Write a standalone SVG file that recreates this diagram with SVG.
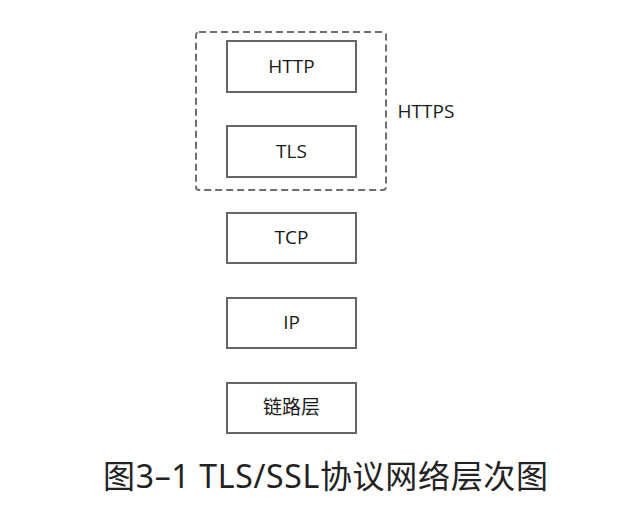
<svg xmlns="http://www.w3.org/2000/svg" width="618" height="516" viewBox="0 0 618 516">
<style>
.box{fill:#fff;stroke:#666;stroke-width:2}
.lbl{font-family:"Open Sans","Noto Sans","Noto Sans CJK SC",sans-serif;font-size:19px;fill:#1a1a1a;text-anchor:middle}
.cap{font-family:"Noto Sans","Noto Sans CJK SC",sans-serif;font-size:32px;fill:#222}
</style>
<rect width="618" height="516" fill="#fff"/>
<g id="https">
<rect x="196" y="32" width="190" height="158" fill="none" stroke="#6e6e6e" stroke-width="2" stroke-dasharray="7,4" rx="3"/>
<text class="lbl" x="426" y="118">HTTPS</text>
</g>
<g id="http"><rect class="box" x="227" y="41" width="129" height="51"/><text class="lbl" x="291.5" y="73">HTTP</text></g>
<g id="tls"><rect class="box" x="227" y="126" width="129" height="51"/><text class="lbl" x="291.5" y="158">TLS</text></g>
<g id="tcp"><rect class="box" x="227" y="213" width="129" height="50"/><text class="lbl" x="291.5" y="244">TCP</text></g>
<g id="ip"><rect class="box" x="227" y="298" width="129" height="50"/><text class="lbl" x="291.5" y="329">IP</text></g>
<g id="link"><rect class="box" x="227" y="383" width="129" height="50"/><text class="lbl" x="291.5" y="414">链路层</text></g>
<g id="connectors"/>
<text class="cap" x="103" y="488" textLength="445" lengthAdjust="spacing">图3–1 TLS/SSL协议网络层次图</text>
</svg>
